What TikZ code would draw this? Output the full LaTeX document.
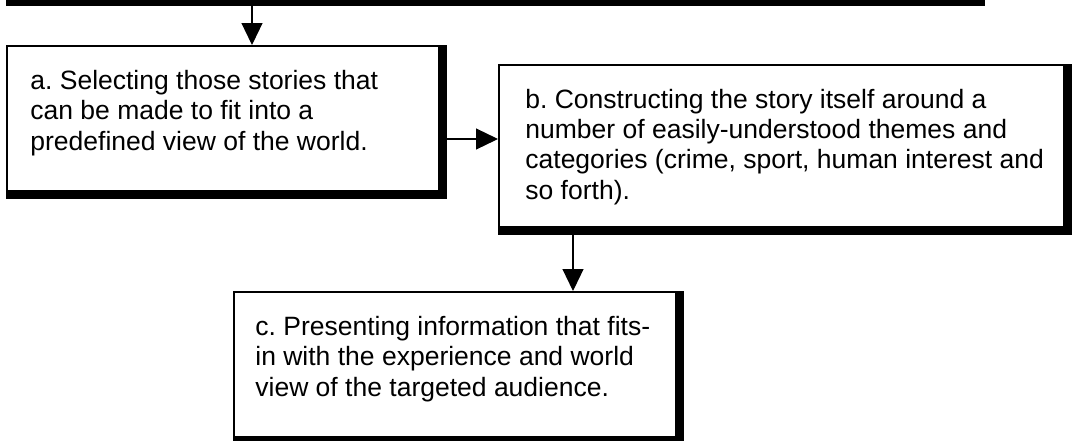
\documentclass[tikz,border=0pt]{standalone}
\usepackage{fontspec}
\setmainfont{Liberation Sans}
\usetikzlibrary{arrows.meta}
\frenchspacing
\tikzset{
  stepbox/.style={draw, line width=1pt, anchor=north west, inner sep=0pt},
  steptext/.style={anchor=base west, align=left, inner sep=0pt,
    font=\fontsize{13.25}{15.15}\selectfont},
  heavyedge/.style={line width=3.5pt},
  flow/.style={-{Triangle[width=10.5pt,length=11pt]}, line width=0.6pt},
}
\begin{document}
\begin{tikzpicture}[x=0.5pt,y=-0.5pt]
  \useasboundingbox (0,0) rectangle (1075,440);
  \draw[heavyedge] (6,2) -- (985,2);
  \coordinate (top) at (252,4);
  % the three boxes
  \node[stepbox, minimum width=216pt, minimum height=72.5pt] (a) at (6,45) {};
  \node[stepbox, minimum width=282.5pt, minimum height=81pt] (b) at (498,64) {};
  \node[stepbox, minimum width=221pt, minimum height=72.5pt] (c) at (233,291) {};
  % texts, placed at the baseline of their last line
  \node[steptext] (a-text) at (30,150)
    {a. Selecting those stories that\\can be made to fit into a\\predefined view of the world.};
  \node[steptext] (b-text) at (525,199)
    {b. Constructing the story itself around a\\number of easily-understood themes and\\categories (crime, sport, human interest and\\so forth).};
  \node[steptext] (c-text) at (255,396)
    {c. Presenting information that fits-\\in with the experience and world\\view of the targeted audience.};
  \draw[heavyedge] ([yshift=-1.75pt]a.south west) -- ([xshift=1.75pt,yshift=-1.75pt]a.south east) -- ([xshift=1.75pt]a.north east);
  \draw[heavyedge] ([yshift=-1.75pt]b.south west) -- ([xshift=1.75pt,yshift=-1.75pt]b.south east) -- ([xshift=1.75pt]b.north east);
  \draw[heavyedge] ([yshift=-1.75pt]c.south west) -- ([xshift=1.75pt,yshift=-1.75pt]c.south east) -- ([xshift=1.75pt]c.north east);
  % arrows
  \draw[flow] (top) -- (top |- a.north);
  \draw[flow] ([xshift=3.5pt,yshift=-10.25pt]a.east) -- ([yshift=-10.25pt]a.east -| b.west);
  \draw[flow] ([xshift=37.5pt,yshift=-3.5pt]b.south west) -- ([xshift=37.5pt]b.south west |- c.north);
\end{tikzpicture}
\end{document}
